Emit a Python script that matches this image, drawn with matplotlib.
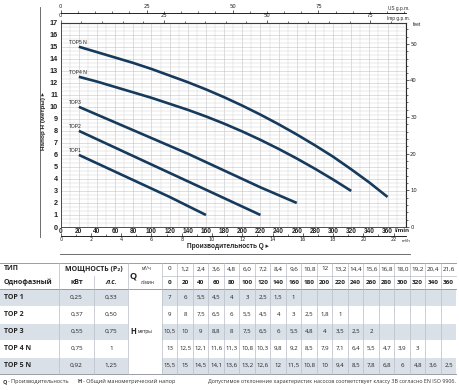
import matplotlib
matplotlib.use("Agg")
import matplotlib.pyplot as plt
from matplotlib.ticker import MultipleLocator
from matplotlib.patches import Rectangle

# ---------------- data ----------------
# table (performance data)
flow_lmin = [0, 20, 40, 60, 80, 100, 120, 140, 160, 180, 200, 220, 240, 260, 280, 300, 320, 340, 360]
flow_m3h_labels = ["0", "1,2", "2,4", "3,6", "4,8", "6,0", "7,2", "8,4", "9,6", "10,8", "12",
                   "13,2", "14,4", "15,6", "16,8", "18,0", "19,2", "20,4", "21,6"]
models = ["TOP 1", "TOP 2", "TOP 3", "TOP 4 N", "TOP 5 N"]
power_kw = ["0,25", "0,37", "0,55", "0,75", "0,92"]
power_hp = ["0,33", "0,50", "0,75", "1", "1,25"]
head_top1 = [7, 6, 5.5, 4.5, 4, 3, 2.5, 1.5, 1]
head_top2 = [9, 8, 7.5, 6.5, 6, 5.5, 4.5, 4, 3, 2.5, 1.8, 1]
head_top3 = [10.5, 10, 9, 8.8, 8, 7.5, 6.5, 6, 5.5, 4.8, 4, 3.5, 2.5, 2]
head_top4n = [13, 12.5, 12.1, 11.6, 11.3, 10.8, 10.3, 9.8, 9.2, 8.5, 7.9, 7.1, 6.4, 5.5, 4.7, 3.9, 3]
head_top5n = [15.5, 15, 14.5, 14.1, 13.6, 13.2, 12.6, 12, 11.5, 10.8, 10, 9.4, 8.5, 7.8, 6.8, 6, 4.8, 3.6, 2.5]
heads = [head_top1, head_top2, head_top3, head_top4n, head_top5n]

# curves (Q from 20 l/min, step 20)
curve_names = ["TOP1", "TOP2", "TOP3", "TOP4 N", "TOP5 N"]
curve_top1 = [6, 5.3, 4.6, 3.9, 3.2, 2.5, 1.75, 1.0]
curve_top2 = [8, 7.3, 6.6, 5.9, 5.2, 4.5, 3.8, 3.1, 2.4, 1.7, 1.0]
curve_top3 = [10, 9.35, 8.7, 8.05, 7.4, 6.75, 6.1, 5.4, 4.7, 4.0, 3.3, 2.65, 2.0]
curve_top4n = [12.5, 12.1, 11.65, 11.2, 10.75, 10.25, 9.75, 9.2, 8.6, 7.95, 7.25, 6.5, 5.7, 4.85, 3.95, 3.0]
curve_top5n = [15, 14.55, 14.1, 13.65, 13.15, 12.6, 12.05, 11.45, 10.8, 10.1, 9.35, 8.55, 7.7,
               6.8, 5.85, 4.8, 3.7, 2.5]
curves = [curve_top1, curve_top2, curve_top3, curve_top4n, curve_top5n]

# unit conversions of the secondary scales
US_GPM_PER_LMIN = 0.264172
IMP_GPM_PER_LMIN = 0.219969
M3H_PER_LMIN = 0.06
FT_PER_M = 3.28084

# ---------------- layout ----------------
W, H = 460, 390
fig = plt.figure(figsize=(4.6, 3.9), dpi=100)
fig.patch.set_facecolor("white")

SANS = ["Liberation Sans", "DejaVu Sans"]
TSANS = ["Open Sans", "DejaVu Sans"]
txt = "#222222"

ov = fig.add_axes([0, 0, 1, 1])
ov.set_xlim(0, W)
ov.set_ylim(H, 0)
ov.axis("off")
ov.patch.set_visible(False)

L, R, T, B = 60.7, 405.7, 22.7, 227.0
ax = fig.add_axes([L / W, 1 - B / H, (R - L) / W, (B - T) / H])
ax.set_xlim(0, 380)
ax.set_ylim(0, 17)
ax.set_xticks(flow_lmin)
ax.xaxis.set_minor_locator(MultipleLocator(10))
ax.yaxis.set_major_locator(MultipleLocator(1))
ax.yaxis.set_minor_locator(MultipleLocator(1 / 3))
ax.grid(which="major", color="#c4c4c4", lw=0.4)
ax.grid(which="minor", color="#d4d4d4", lw=0.35)
ax.set_axisbelow(True)
ax.tick_params(which="both", length=0)
ax.tick_params(axis="x", pad=1.0, labelsize=4.7, colors=txt)
ax.tick_params(axis="y", pad=2.0, labelsize=5.2, colors=txt)
for lab in ax.get_xticklabels() + ax.get_yticklabels():
    lab.set_fontweight("bold")
    lab.set_family(SANS)
for s in ax.spines.values():
    s.set_linewidth(0.6)
    s.set_color("#333333")

curve_color = "#163a5c"
for name, c in zip(curve_names, curves):
    q = flow_lmin[1:len(c) + 1]
    ax.plot(q, c, color=curve_color, lw=1.9, solid_capstyle="butt", solid_joinstyle="round")
    ax.text(q[0] - 10.5, c[0] + 0.12, name, fontsize=3.6, ha="left", va="bottom",
            color=txt, family=SANS)

# top: Imp g.p.m. on top spine
imp = ax.secondary_xaxis("top", functions=(lambda q: q * IMP_GPM_PER_LMIN,
                                            lambda g: g / IMP_GPM_PER_LMIN))
imp.set_xticks([0, 25, 50, 75])
imp.xaxis.set_minor_locator(MultipleLocator(5))
imp.tick_params(which="major", length=2.5, width=0.5, labelsize=3.8, pad=0.6, colors=txt)
imp.tick_params(which="minor", length=1.5, width=0.4)

# top: US g.p.m. above
us = ax.secondary_xaxis(1.046, functions=(lambda q: q * US_GPM_PER_LMIN,
                                          lambda g: g / US_GPM_PER_LMIN))
us.set_xticks([0, 25, 50, 75])
us.xaxis.set_minor_locator(MultipleLocator(5))
us.tick_params(which="major", length=2.5, width=0.5, labelsize=3.8, pad=0.6, colors=txt)
us.tick_params(which="minor", length=1.5, width=0.4)
for sp in us.spines.values():
    sp.set_linewidth(0.6)

# bottom: m3/h
m3 = ax.secondary_xaxis(-0.044, functions=(lambda q: q * M3H_PER_LMIN,
                                           lambda v: v / M3H_PER_LMIN))
m3.set_xticks(range(0, 23, 2))
m3.xaxis.set_minor_locator(MultipleLocator(1))
m3.tick_params(which="major", direction="in", length=2.5, width=0.5, labelsize=3.5, pad=1.0, colors=txt)
m3.tick_params(which="minor", direction="in", length=1.5, width=0.4)
for sp in m3.spines.values():
    sp.set_linewidth(0.6)

# right: feet
ft = ax.secondary_yaxis("right", functions=(lambda m: m * FT_PER_M, lambda f: f / FT_PER_M))
ft.set_yticks(range(0, 51, 10))
ft.yaxis.set_minor_locator(MultipleLocator(2))
ft.tick_params(which="major", length=2.2, width=0.5, labelsize=3.8, pad=1.0, colors=txt)
ft.tick_params(which="minor", length=1.3, width=0.4)

# axis captions
ov.text(388, 8.6, "US g.p.m.", fontsize=3.4, ha="left", va="center", color=txt, family=SANS)
ov.text(387, 18.6, "Imp g.p.m.", fontsize=3.4, ha="left", va="center", color=txt, family=SANS)
ov.text(413, 25, "feet", fontsize=3.5, ha="left", va="center", color=txt, family=SANS)
ov.text(394.5, 230.3, "l/min", fontsize=4.6, fontweight="bold", ha="left", va="center",
        color=txt, family=SANS)
ov.text(402, 240.6, "m³/h", fontsize=3.2, ha="left", va="center", color=txt, family=SANS)
ov.text(228, 246.5, "Производительность Q ▸", fontsize=4.7, fontweight="bold",
        ha="center", va="center", color=txt, family=SANS)
ov.text(43.5, 121, "Напор H (метры) ▸", fontsize=4.6, fontweight="bold", rotation=90,
        ha="center", va="center", color=txt, family=SANS)
ov.plot([40, 40], [7, 237], color="#555555", lw=0.6)
ov.plot([60, 410], [254, 254], color="#555555", lw=0.6)

# ---------------- table ----------------
band = "#d9e0e8"
line_c = "#b8bec6"
dark_c = "#8a8f96"
col0 = 162.0
cw = 15.5
tab_r = col0 + cw * len(flow_lmin)
row_top = 289.0
rh = 17.0


def fmt(v):
    return f"{v:g}".replace(".", ",")


for i in range(len(models)):
    y0 = row_top + rh * i
    if i % 2 == 0:
        ov.add_patch(Rectangle((0, y0), 128, rh, facecolor=band, edgecolor="none"))
        ov.add_patch(Rectangle((col0, y0), tab_r - col0, rh, facecolor=band, edgecolor="none"))

# horizontal lines
ov.plot([0, tab_r], [262.5, 262.5], color=dark_c, lw=0.6)
ov.plot([col0, tab_r], [275.5, 275.5], color=line_c, lw=0.5)
ov.plot([0, tab_r], [row_top, row_top], color=dark_c, lw=0.6)
for i in range(1, len(models)):
    y = row_top + rh * i
    ov.plot([0, 128], [y, y], color="white", lw=0.8)
    ov.plot([col0, tab_r], [y, y], color="white", lw=0.8)
ov.plot([0, tab_r], [row_top + rh * len(models)] * 2, color=dark_c, lw=0.6)

# vertical lines
ybot = row_top + rh * len(models)
for x, ytop in [(59, 262.5), (94, 275.5), (128, 262.5), (col0, 262.5)]:
    ov.plot([x, x], [ytop, ybot], color=line_c, lw=0.5)
for k in range(1, len(flow_lmin)):
    x = col0 + cw * k
    ov.plot([x, x], [262.5, ybot], color=line_c, lw=0.5)

# header text
ov.text(4, 269, "ТИП", fontsize=5.0, fontweight="bold", ha="left", va="center", color=txt, family=TSANS)
ov.text(4, 282.3, "Однофазный", fontsize=5.0, fontweight="bold", ha="left", va="center", color=txt, family=TSANS)
ov.text(93.5, 269, "МОЩНОСТЬ (P₂)", fontsize=5.0, fontweight="bold", ha="center", va="center", color=txt, family=TSANS)
ov.text(76.5, 282.3, "кВт", fontsize=5.0, fontweight="bold", ha="center", va="center", color=txt, family=TSANS)
ov.text(111, 282.3, "л.с.", fontsize=5.0, fontweight="bold", style="italic", ha="center", va="center", color=txt, family=TSANS)
ov.text(133.5, 275.5, "Q", fontsize=6.5, fontweight="bold", ha="center", va="center", color=txt, family=TSANS)
ov.text(146.5, 269, "м³/ч", fontsize=3.4, ha="center", va="center", color=txt, family=TSANS)
ov.text(146.5, 282.3, "л/мин", fontsize=3.4, ha="center", va="center", color=txt, family=TSANS)
for j, (m3lab, ql) in enumerate(zip(flow_m3h_labels, flow_lmin)):
    xc = col0 + cw * (j + 0.5)
    ov.text(xc, 269, m3lab, fontsize=4.5, ha="center", va="center", color=txt, family=TSANS)
    ov.text(xc, 282.3, str(ql), fontsize=4.6, fontweight="bold", ha="center", va="center", color=txt, family=TSANS)

# data rows
for i, (mdl, kw, hp, h) in enumerate(zip(models, power_kw, power_hp, heads)):
    yc = row_top + rh * (i + 0.5)
    ov.text(4, yc, mdl, fontsize=5.0, fontweight="bold", ha="left", va="center", color=txt, family=TSANS)
    ov.text(76.5, yc, kw, fontsize=4.6, ha="center", va="center", color=txt, family=TSANS)
    ov.text(111, yc, hp, fontsize=4.6, ha="center", va="center", color=txt, family=TSANS)
    for j, v in enumerate(h):
        ov.text(col0 + cw * (j + 0.5), yc, fmt(v), fontsize=4.4, ha="center", va="center",
                color=txt, family=TSANS)
yc3 = row_top + rh * 2.5
ov.text(133, yc3, "H", fontsize=5.5, fontweight="bold", ha="center", va="center", color=txt, family=TSANS)
ov.text(137.5, yc3, "метры", fontsize=3.4, ha="left", va="center", color=txt, family=TSANS)

# footnotes
fn_c = "#333333"
ov.text(3, 381.5, "Q", fontsize=4.0, fontweight="bold", ha="left", va="center", color=fn_c, family=TSANS)
ov.text(8.5, 381.5, "- Производительность", fontsize=4.0, ha="left", va="center", color=fn_c, family=TSANS)
ov.text(78, 381.5, "H", fontsize=4.0, fontweight="bold", ha="left", va="center", color=fn_c, family=TSANS)
ov.text(83.5, 381.5, "- Общий манометрический напор", fontsize=4.0, ha="left", va="center",
        color=fn_c, family=TSANS)
ov.text(456, 381.5, "Допустимое отклонение характеристик насосов соответствует классу 3B согласно EN ISO 9906.",
        fontsize=3.9, ha="right", va="center", color=fn_c, family=TSANS)

fig.savefig("out.png", dpi=100, facecolor="white")
